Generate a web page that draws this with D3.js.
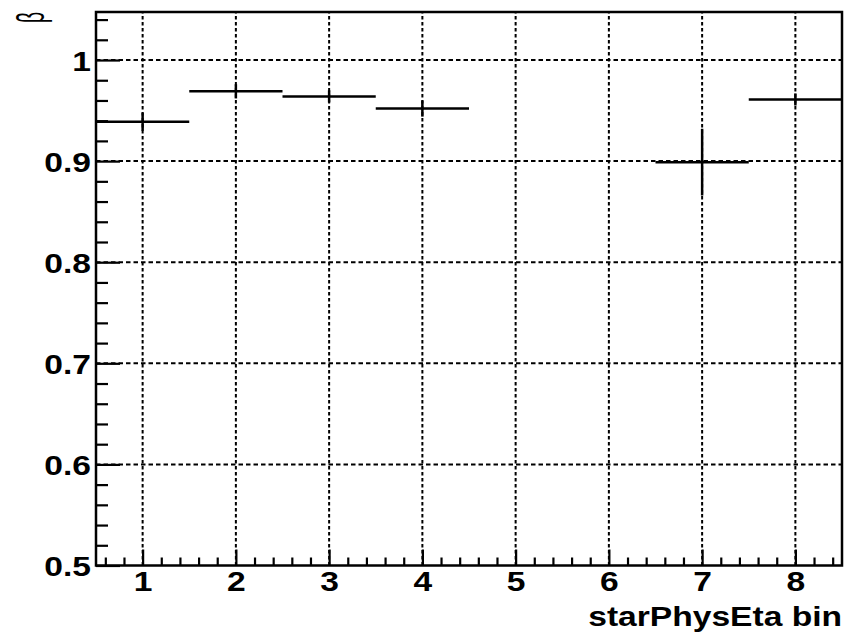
<!DOCTYPE html>
<html>
<head>
<meta charset="utf-8">
<script src="https://cdn.jsdelivr.net/npm/d3@7"></script>
<style>
  html, body { margin: 0; padding: 0; background: #fff; }
  svg { display: block; }
  text { font-family: "Liberation Sans", Arial, Helvetica, sans-serif; fill: #000; }
</style>
</head>
<body>
<svg id="chart" width="845" height="633"></svg>
<script>
// ---- data ----
const bins = [1, 2, 3, 4, 5, 6, 7, 8];
const binWidth = 1;
const betaValues = [0.939, 0.969, 0.964, 0.952, null, null, 0.899, 0.961];
const betaErrors = [0.009, 0.007, 0.006, 0.008, null, null, 0.033, 0.006];
const xTicks = [1, 2, 3, 4, 5, 6, 7, 8];
const yTicks = [0.5, 0.6, 0.7, 0.8, 0.9, 1.0];
const yTickLabels = ["0.5", "0.6", "0.7", "0.8", "0.9", "1"];
const xTitle = "starPhysEta bin";
const yTitle = "\u03B2";

// ---- layout ----
const L = 96, R = 842, T = 12, B = 565.5;
const svg = d3.select("#chart");
const x = d3.scaleLinear().domain([0.5, 8.5]).range([L, R]);
const y = d3.scaleLinear().domain([0.5, 1.0475]).range([B, T]);
const SX = 1.2; // horizontal text stretch
const FS = 28;

// grid
const grid = svg.append("g").attr("stroke", "#000").attr("stroke-width", 2).attr("fill", "none");
grid.selectAll("line.gx").data(xTicks).join("line")
  .attr("x1", d => x(d)).attr("x2", d => x(d)).attr("y1", B).attr("y2", T)
  .attr("stroke-dasharray", "3.5,2.5");
grid.selectAll("line.gy").data(yTicks.slice(1)).join("line")
  .attr("x1", L).attr("x2", R).attr("y1", d => y(d)).attr("y2", d => y(d))
  .attr("stroke-dasharray", "4.5,3");

// minor ticks arrays
const xMinor = d3.range(0.6, 8.45, 0.2).filter(v => Math.abs(v - Math.round(v)) > 0.01);
const yMinor = d3.range(0.52, 1.045, 0.02).filter(v => Math.abs(v * 10 - Math.round(v * 10)) > 0.01);

// axes (inside ticks)
const xAxisMinor = d3.axisBottom(x).tickValues(xMinor).tickSize(-8).tickFormat("");
const xAxis = d3.axisBottom(x).tickValues(xTicks).tickSize(-16).tickPadding(0).tickFormat(d3.format("d"));
const yAxisMinor = d3.axisLeft(y).tickValues(yMinor).tickSize(-12).tickFormat("");
const yAxis = d3.axisLeft(y).tickValues(yTicks).tickSize(-24).tickPadding(0)
  .tickFormat((d, i) => yTickLabels[i]);

function styleAxis(g) {
  g.select(".domain").remove();
  g.selectAll(".tick line").attr("stroke", "#000").attr("stroke-width", 2.2);
}

svg.append("g").attr("transform", `translate(0,${B})`).call(xAxisMinor).call(styleAxis);
const gx = svg.append("g").attr("transform", `translate(0,${B})`).call(xAxis).call(styleAxis);
gx.selectAll(".tick text")
  .attr("y", null).attr("dy", null)
  .attr("transform", `translate(0,25) scale(${SX},1)`)
  .attr("font-size", FS).attr("font-weight", "bold").attr("fill", "#000")
  .attr("font-family", "'Liberation Sans', Arial, sans-serif");

svg.append("g").attr("transform", `translate(${L},0)`).call(yAxisMinor).call(styleAxis);
const gy = svg.append("g").attr("transform", `translate(${L},0)`).call(yAxis).call(styleAxis);
gy.selectAll(".tick text")
  .attr("x", null).attr("dy", null)
  .attr("text-anchor", "end")
  .attr("transform", `translate(-5,10) scale(${SX},1)`)
  .attr("font-size", FS).attr("font-weight", "bold").attr("fill", "#000")
  .attr("font-family", "'Liberation Sans', Arial, sans-serif");

// frame
svg.append("rect").attr("x", L).attr("y", T).attr("width", R - L).attr("height", B - T)
  .attr("fill", "none").attr("stroke", "#000").attr("stroke-width", 2.5);

// data: horizontal bin-width bars and vertical error bars
const pts = bins.map((b, i) => ({ b, v: betaValues[i], e: betaErrors[i] })).filter(d => d.v != null);
const data = svg.append("g").attr("stroke", "#000").attr("stroke-width", 2.5);
data.selectAll("line.h").data(pts).join("line")
  .attr("x1", d => x(d.b - binWidth / 2)).attr("x2", d => x(d.b + binWidth / 2))
  .attr("y1", d => y(d.v)).attr("y2", d => y(d.v));
data.selectAll("line.v").data(pts).join("line")
  .attr("x1", d => x(d.b)).attr("x2", d => x(d.b))
  .attr("y1", d => y(d.v - d.e)).attr("y2", d => y(d.v + d.e));

// titles
svg.append("text")
  .attr("text-anchor", "end")
  .attr("transform", `translate(${R},626) scale(${SX},1)`)
  .attr("font-size", FS).attr("font-weight", "bold")
  .text(xTitle);

svg.append("text")
  .attr("text-anchor", "end")
  .attr("transform", `translate(44,${T}) rotate(-90) scale(0.8,1.6)`)
  .attr("font-size", 24)
  .text(yTitle);
</script>
</body>
</html>
